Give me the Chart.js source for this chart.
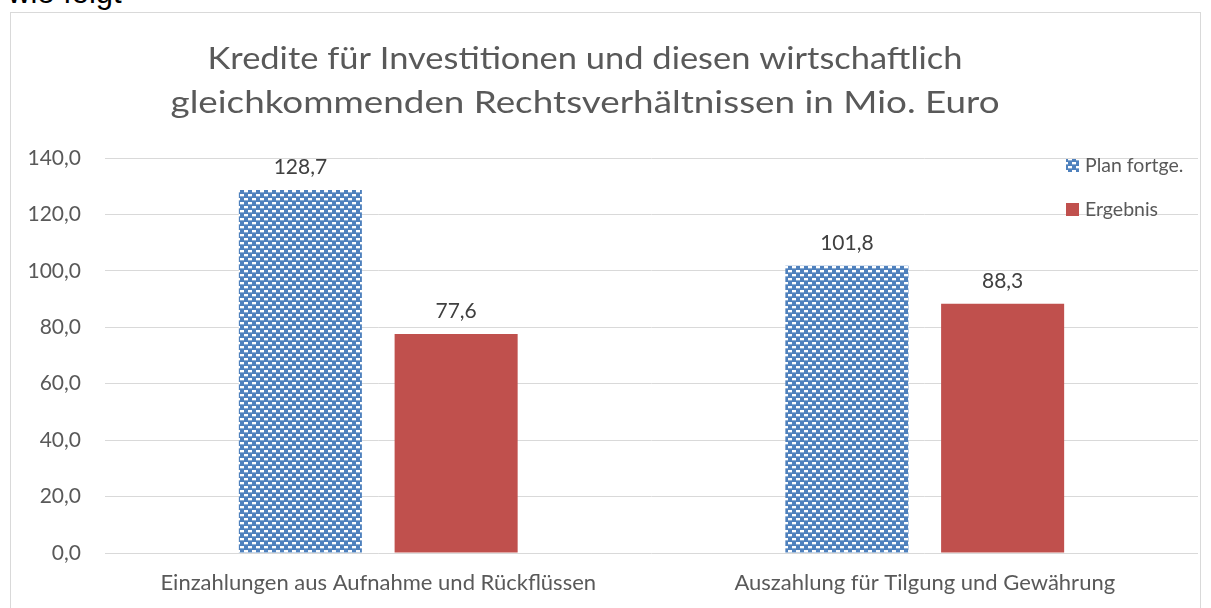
<!DOCTYPE html>
<html>
<head>
<meta charset="utf-8">
<script src="https://cdn.jsdelivr.net/npm/chart.js@4/dist/chart.umd.min.js"></script>
<style>
  html, body { margin: 0; padding: 0; background: #fff; overflow: hidden; }
  #lead { position: absolute; left: 8px; top: -25px; font: 31px "Liberation Sans", Arial, sans-serif; color: #000; }
  #box { position: absolute; left: 10px; top: 12px; width: 1189px; height: 620px; border: 1px solid #d9d9d9; }
  #chart { position: absolute; left: 0; top: 0; }
</style>
</head>
<body>
<div id="lead">wie folgt</div>
<div id="box"><canvas id="chart" width="1189" height="597"></canvas></div>
<script>
const categories = ['Einzahlungen aus Aufnahme und Rückflüssen', 'Auszahlung für Tilgung und Gewährung'];
const seriesNames = ['Plan fortge.', 'Ergebnis'];
const planValues = [128.7, 101.8];
const resultValues = [77.6, 88.3];
const titleLines = ['Kredite für Investitionen und diesen wirtschaftlich', 'gleichkommenden Rechtsverhältnissen in Mio. Euro'];

const FONT = 'Lato, "Open Sans", sans-serif';
const fmt = v => v.toFixed(1).replace('.', ',');

// blue with white brick dashes, like the office pattern fill
function makePattern() {
    const c = document.createElement('canvas');
    c.width = 8; c.height = 8;
    const g = c.getContext('2d');
    g.fillStyle = '#4F81BD';
    g.fillRect(0, 0, 8, 8);
    g.fillStyle = '#ffffff';
    g.fillRect(1, 1, 4, 2);
    g.fillRect(5, 5, 3, 2);
    g.fillRect(0, 5, 1, 2);
    g.fillStyle = 'rgba(255,255,255,0.35)';
    g.fillRect(1, 3, 4, 1);
    g.fillRect(5, 7, 3, 1);
    g.fillRect(0, 7, 1, 1);
    return g.createPattern(c, 'repeat');
}
const planFill = makePattern();
const resultFill = '#C0504D';

// title line widths in the original (Calibri is wider than Lato here)
const titleWidths = [755, 829];

const extras = {
    id: 'extras',
    afterDatasetsDraw(chart) {
        const ctx = chart.ctx;
        ctx.save();
        // value labels
        ctx.font = '21px ' + FONT;
        ctx.fillStyle = '#404040';
        ctx.textAlign = 'center';
        ctx.textBaseline = 'alphabetic';
        chart.data.datasets.forEach((ds, i) => {
            chart.getDatasetMeta(i).data.forEach((bar, j) => {
                ctx.fillText(fmt(ds.data[j]), bar.x, bar.y - 16);
            });
        });
        // title
        ctx.font = '30px ' + FONT;
        ctx.fillStyle = '#595959';
        ctx.textBaseline = 'middle';
        titleLines.forEach((line, i) => {
            const w = ctx.measureText(line).width;
            const k = titleWidths[i] / w;
            ctx.save();
            ctx.translate(574, 46 + i * 44);
            ctx.scale(k, 1);
            ctx.fillText(line, 0, 0);
            ctx.restore();
        });
        // legend
        ctx.font = '19.5px ' + FONT;
        ctx.textAlign = 'left';
        const fills = [planFill, resultFill];
        seriesNames.forEach((name, i) => {
            const y = 152 + i * 44;
            ctx.fillStyle = fills[i];
            ctx.fillRect(1055, y - 6, 13, 13);
            ctx.fillStyle = '#595959';
            ctx.fillText(name, 1074, y + 1);
        });
        ctx.restore();
    }
};

new Chart(document.getElementById('chart'), {
    type: 'bar',
    data: {
        labels: categories,
        datasets: [
            { label: seriesNames[0], data: planValues, backgroundColor: planFill },
            { label: seriesNames[1], data: resultValues, backgroundColor: resultFill }
        ]
    },
    options: {
        responsive: false,
        animation: false,
        categoryPercentage: 0.57,
        barPercentage: 0.79,
        layout: { padding: { top: 145, right: 2, left: 0, bottom: 0 } },
        plugins: {
            legend: { display: false },
            title: { display: false },
            tooltip: { enabled: false }
        },
        scales: {
            x: {
                grid: { display: false },
                border: { display: false },
                ticks: { color: '#595959', font: { family: FONT, size: 22 }, padding: 9, maxRotation: 0 },
                afterFit: s => { s.height = 57; }
            },
            y: {
                min: 0,
                max: 140,
                grid: { color: '#d9d9d9', drawTicks: false, lineWidth: 1 },
                border: { display: false },
                ticks: { stepSize: 20, color: '#595959', font: { family: FONT, size: 21 }, padding: 24, callback: v => fmt(v) },
                afterFit: s => { s.width = 94; }
            }
        }
    },
    plugins: [extras]
});
</script>
</body>
</html>
